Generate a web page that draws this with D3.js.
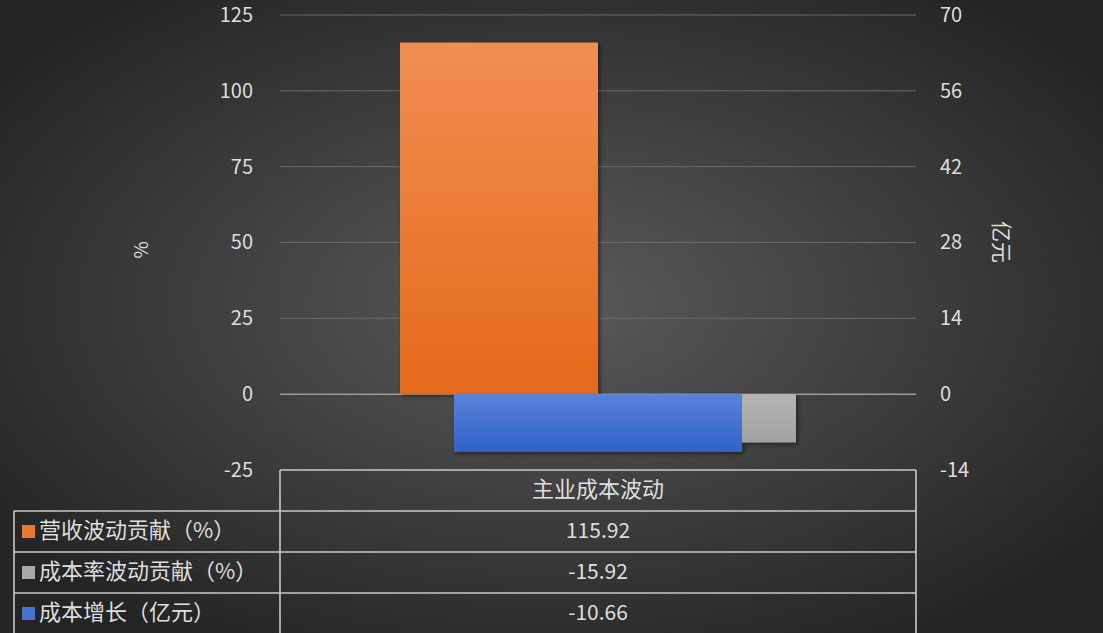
<!DOCTYPE html>
<html><head><meta charset="utf-8">
<script src="https://cdn.jsdelivr.net/npm/d3@7"></script>
<style>body{margin:0;background:#333;}svg{display:block;}</style>
</head><body>
<script>
const categories = ["主业成本波动"];
const seriesNames = ["营收波动贡献（%）", "成本率波动贡献（%）", "成本增长（亿元）"];
const revenueContrib = [115.92];
const costRateContrib = [-15.92];
const costGrowth = [-10.66];
const leftTicks = [-25, 0, 25, 50, 75, 100, 125];
const rightTicks = [-14, 0, 14, 28, 42, 56, 70];
const colors = ["#ec7a2c", "#a9a9a9", "#4473d0"];

(function(){
const W = 1103, H = 633;
const svg = d3.select("body").append("svg").attr("width", W).attr("height", H);
const defs = svg.append("defs");
const bg = defs.append("radialGradient").attr("id","bg").attr("cx","50%").attr("cy","48%").attr("r","62%");
bg.append("stop").attr("offset","0%").attr("stop-color","#5a5a5a");
bg.append("stop").attr("offset","100%").attr("stop-color","#242424");
svg.append("rect").attr("width",W).attr("height",H).attr("fill","url(#bg)");

function lin(id, c1, c2){const g=defs.append("linearGradient").attr("id",id).attr("x1",0).attr("x2",0).attr("y1",0).attr("y2",1);
 g.append("stop").attr("offset","0%").attr("stop-color",c1); g.append("stop").attr("offset","100%").attr("stop-color",c2);}
lin("gO","#f08e52","#e5691a");
lin("gG","#b4b4b4","#a2a2a2");
lin("gB","#5b82d8","#2f63c6");
const sh = defs.append("filter").attr("id","sh").attr("x","-10%").attr("y","-10%").attr("width","130%").attr("height","130%");
sh.append("feDropShadow").attr("dx",2).attr("dy",2).attr("stdDeviation",2).attr("flood-color","#000").attr("flood-opacity",0.45);

const pLeft = 280, pRight = 916, pTop = 15, pBottom = 470;
const yL = d3.scaleLinear().domain([-25,125]).range([pBottom, pTop]);
const yR = d3.scaleLinear().domain([-14,70]).range([pBottom, pTop]);
const x0 = d3.scaleBand().domain(categories).range([pLeft, pRight]);
const xP = d3.scaleBand().domain([0,1]).range([0, x0.bandwidth()]).paddingInner(0).paddingOuter(0.606);
const xS = d3.scaleBand().domain([0]).range([0, x0.bandwidth()]).paddingOuter(0.604);

const font = "'Noto Sans CJK SC','Noto Sans',sans-serif";
const txt = "#dedede";
const fmt = d => String(d);

svg.append("g").selectAll("line").data(leftTicks.filter(d=>d>-25)).join("line")
 .attr("x1",pLeft).attr("x2",pRight).attr("y1",d=>yL(d)).attr("y2",d=>yL(d))
 .attr("stroke",d=>d===0?"#9a9a9a":"#6a6a6a").attr("stroke-width",d=>d===0?1.5:1);

const axL = svg.append("g").attr("transform",`translate(${pLeft-27},0)`).call(d3.axisLeft(yL).tickValues(leftTicks).tickFormat(fmt).tickSize(0).tickPadding(0));
const axR = svg.append("g").attr("transform",`translate(${pRight+24},0)`).call(d3.axisRight(yR).tickValues(rightTicks).tickFormat(fmt).tickSize(0).tickPadding(0));
[axL,axR].forEach(a=>{a.select(".domain").remove(); a.selectAll("text").attr("fill",txt).attr("font-size",20).attr("font-family",font);});

svg.append("text").attr("transform",`translate(143,250) rotate(-90)`).attr("text-anchor","middle").attr("dominant-baseline","middle")
 .attr("fill",txt).attr("font-size",19).attr("font-family",font).text("%");
svg.append("text").attr("transform",`translate(1000,242) rotate(90)`).attr("text-anchor","middle").attr("dominant-baseline","middle")
 .attr("fill",txt).attr("font-size",21).attr("font-family",font).text("亿元");

const g = svg.append("g").attr("filter","url(#sh)");
categories.forEach((c,i)=>{
  const v1 = revenueContrib[i], v2 = costRateContrib[i], v3 = costGrowth[i];
  g.append("rect").attr("x",x0(c)+xP(0)).attr("width",xP.bandwidth())
    .attr("y",yL(Math.max(0,v1))).attr("height",Math.abs(yL(v1)-yL(0))).attr("fill","url(#gO)");
  g.append("rect").attr("x",x0(c)+xP(1)).attr("width",xP.bandwidth())
    .attr("y",yL(Math.max(0,v2))).attr("height",Math.abs(yL(v2)-yL(0))).attr("fill","url(#gG)");
  g.append("rect").attr("x",x0(c)+xS(0)).attr("width",xS.bandwidth())
    .attr("y",yR(Math.max(0,v3))).attr("height",Math.abs(yR(v3)-yR(0))).attr("fill","url(#gB)");
});

const rowH = 41, tLeft = 14;
const tl = svg.append("g").attr("stroke","#c8c8c8").attr("stroke-width",1.6).attr("fill","none");
tl.append("line").attr("x1",pLeft).attr("x2",pRight).attr("y1",pBottom).attr("y2",pBottom);
tl.append("line").attr("x1",pLeft).attr("x2",pLeft).attr("y1",pBottom).attr("y2",H);
tl.append("line").attr("x1",pRight).attr("x2",pRight).attr("y1",pBottom).attr("y2",H);
tl.append("line").attr("x1",tLeft).attr("x2",tLeft).attr("y1",pBottom+rowH).attr("y2",H);
[1,2,3].forEach(k=>tl.append("line").attr("x1",tLeft).attr("x2",pRight).attr("y1",pBottom+rowH*k).attr("y2",pBottom+rowH*k));

svg.append("text").attr("x",x0(categories[0])+x0.bandwidth()/2).attr("y",pBottom+rowH/2+1)
 .attr("text-anchor","middle").attr("dominant-baseline","middle").attr("fill",txt).attr("font-size",22).attr("font-family",font).text(categories[0]);

const vals = [revenueContrib, costRateContrib, costGrowth];
seriesNames.forEach((s,k)=>{
  const cy = pBottom + rowH*(k+1) + rowH/2;
  svg.append("rect").attr("x",22).attr("y",cy-6.5).attr("width",13).attr("height",13).attr("fill",colors[k]);
  svg.append("text").attr("x",39).attr("y",cy+1).attr("dominant-baseline","middle").attr("fill",txt)
    .attr("font-size",22).attr("font-family",font).text(s);
  svg.append("text").attr("x",x0(categories[0])+x0.bandwidth()/2).attr("y",cy+1).attr("text-anchor","middle")
    .attr("dominant-baseline","middle").attr("fill",txt).attr("font-size",21).attr("font-family",font)
    .text(vals[k][0].toFixed(2));
});
})();
</script>
</body></html>
